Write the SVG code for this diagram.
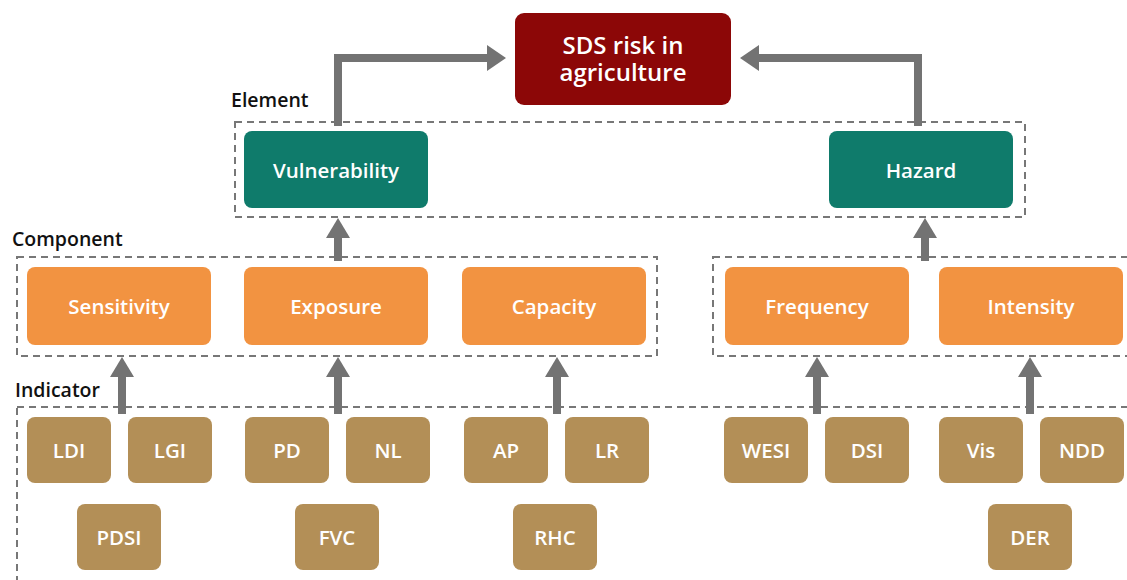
<svg xmlns="http://www.w3.org/2000/svg" width="1127" height="580" viewBox="0 0 1127 580">
<style>
.lbl{font-family:"Open Sans","Liberation Sans",sans-serif;font-weight:600;font-size:19.5px;fill:#111}
.t{font-family:"Open Sans","Liberation Sans",sans-serif;font-weight:600;font-size:20.5px;fill:#fff;text-anchor:middle;dominant-baseline:central}
.dash{fill:none;stroke:#777;stroke-width:2;stroke-dasharray:7 5}
.risk{fill:#8C0707}
.el{fill:#0F7B6B}
.co{fill:#F29341}
.in{fill:#B38F57}
.sh{fill:none;stroke:#737373;stroke-width:8}
.hd{fill:#737373}
</style>
<rect width="1127" height="580" fill="#fff"/>
<g id="frames">
<rect class="dash" x="235" y="122" width="790" height="95"/>
<rect class="dash" x="17" y="257" width="640" height="99"/>
<rect class="dash" x="713" y="257" width="430" height="99"/>
<rect class="dash" x="17" y="407" width="1130" height="200"/>
<text class="lbl" x="231" y="107">Element</text>
<text class="lbl" x="12" y="246">Component</text>
<text class="lbl" x="15" y="397">Indicator</text>
</g>
<g id="connectors">
<path class="sh" d="M338 126 V58 H488"/>
<polygon class="hd" points="506,58 487,45 487,71"/>
<path class="sh" d="M918 126 V58 H758"/>
<polygon class="hd" points="740,58 759,45 759,71"/>
<path class="sh" d="M338 261 V236"/>
<polygon class="hd" points="338,218 326,238 350,238"/>
<path class="sh" d="M925 261 V236"/>
<polygon class="hd" points="925,218 913,238 937,238"/>
<path class="sh" d="M122 414 V375"/>
<polygon class="hd" points="122,357 110,377 134,377"/>
<path class="sh" d="M338 414 V375"/>
<polygon class="hd" points="338,357 326,377 350,377"/>
<path class="sh" d="M557 414 V375"/>
<polygon class="hd" points="557,357 545,377 569,377"/>
<path class="sh" d="M817 414 V375"/>
<polygon class="hd" points="817,357 805,377 829,377"/>
<path class="sh" d="M1030 414 V375"/>
<polygon class="hd" points="1030,357 1018,377 1042,377"/>
</g>
<g id="risk"><rect class="risk" x="515" y="13" width="216" height="92" rx="9"/>
<text class="t" x="623" y="44" style="font-size:24px"><tspan x="623" y="44">SDS risk in</tspan><tspan x="623" y="71">agriculture</tspan></text></g>
<g id="vulnerability"><rect class="el" x="244" y="131" width="184" height="77" rx="8"/><text class="t" x="336" y="169.5">Vulnerability</text></g>
<g id="hazard"><rect class="el" x="829" y="131" width="184" height="77" rx="8"/><text class="t" x="921" y="169.5">Hazard</text></g>
<g id="sensitivity"><rect class="co" x="27" y="267" width="184" height="78" rx="8"/><text class="t" x="119" y="306">Sensitivity</text></g>
<g id="exposure"><rect class="co" x="244" y="267" width="184" height="78" rx="8"/><text class="t" x="336" y="306">Exposure</text></g>
<g id="capacity"><rect class="co" x="462" y="267" width="184" height="78" rx="8"/><text class="t" x="554" y="306">Capacity</text></g>
<g id="frequency"><rect class="co" x="725" y="267" width="184" height="78" rx="8"/><text class="t" x="817" y="306">Frequency</text></g>
<g id="intensity"><rect class="co" x="939" y="267" width="184" height="78" rx="8"/><text class="t" x="1031" y="306">Intensity</text></g>
<g id="ldi"><rect class="in" x="27" y="417" width="84" height="66" rx="8"/><text class="t" x="69" y="450">LDI</text></g>
<g id="lgi"><rect class="in" x="128" y="417" width="84" height="66" rx="8"/><text class="t" x="170" y="450">LGI</text></g>
<g id="pd"><rect class="in" x="245" y="417" width="84" height="66" rx="8"/><text class="t" x="287" y="450">PD</text></g>
<g id="nl"><rect class="in" x="346" y="417" width="84" height="66" rx="8"/><text class="t" x="388" y="450">NL</text></g>
<g id="ap"><rect class="in" x="464" y="417" width="84" height="66" rx="8"/><text class="t" x="506" y="450">AP</text></g>
<g id="lr"><rect class="in" x="565" y="417" width="84" height="66" rx="8"/><text class="t" x="607" y="450">LR</text></g>
<g id="wesi"><rect class="in" x="724" y="417" width="84" height="66" rx="8"/><text class="t" x="766" y="450">WESI</text></g>
<g id="dsi"><rect class="in" x="825" y="417" width="84" height="66" rx="8"/><text class="t" x="867" y="450">DSI</text></g>
<g id="vis"><rect class="in" x="939" y="417" width="84" height="66" rx="8"/><text class="t" x="981" y="450">Vis</text></g>
<g id="ndd"><rect class="in" x="1040" y="417" width="84" height="66" rx="8"/><text class="t" x="1082" y="450">NDD</text></g>
<g id="pdsi"><rect class="in" x="77" y="504" width="84" height="66" rx="8"/><text class="t" x="119" y="537">PDSI</text></g>
<g id="fvc"><rect class="in" x="295" y="504" width="84" height="66" rx="8"/><text class="t" x="337" y="537">FVC</text></g>
<g id="rhc"><rect class="in" x="513" y="504" width="84" height="66" rx="8"/><text class="t" x="555" y="537">RHC</text></g>
<g id="der"><rect class="in" x="988" y="504" width="84" height="66" rx="8"/><text class="t" x="1030" y="537">DER</text></g>
</svg>
